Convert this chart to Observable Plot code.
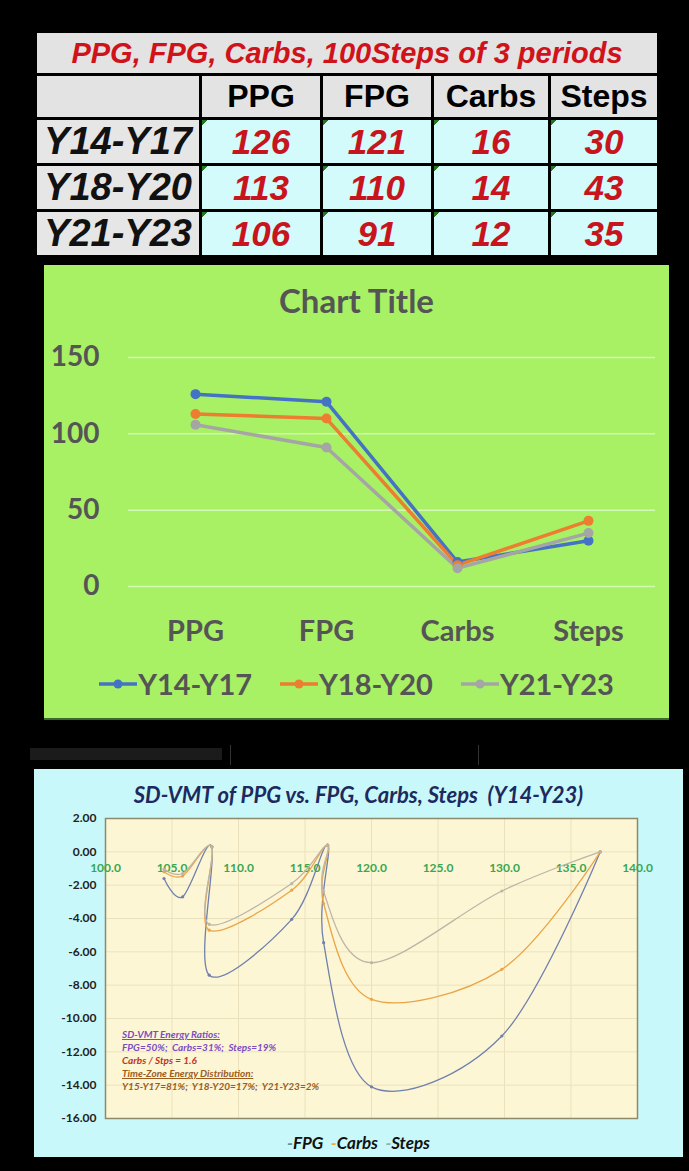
<!DOCTYPE html>
<html><head><meta charset="utf-8">
<script src="https://cdn.jsdelivr.net/npm/d3@7"></script>
<script src="https://cdn.jsdelivr.net/npm/@observablehq/plot@0.6"></script>
<style>
html,body{margin:0;padding:0;}
body{background:#000;width:689px;height:1171px;overflow:hidden;position:relative;}
#table{position:absolute;left:37px;top:33px;display:grid;grid-template-columns:162px 118px 108px 114px 106px;grid-template-rows:40px 41px 43px 43px 43px;gap:3px;}
#table div{display:flex;align-items:center;justify-content:center;font-family:"Liberation Sans",Arial,sans-serif;font-weight:bold;white-space:nowrap;overflow:hidden;}
#table .ttl{grid-column:1 / -1;background:#e3e3e3;color:#d0121a;font-style:italic;font-size:29px;}
#table .hd{background:#e3e3e3;color:#000;font-size:32px;}
#table .lab{background:#e6e6e6;color:#111;font-style:italic;font-size:38px;}
#table .val{background:linear-gradient(135deg,#1f7a1f 0,#1f7a1f 4px,rgba(0,0,0,0) 4px),#d3fbfb;color:#c8141c;font-style:italic;font-size:35px;}
#green{position:absolute;left:44px;top:265px;width:625px;height:453px;background:#a8f064;box-shadow:0 2px 0 #3c6a28;}
#gtitle{position:absolute;left:0;width:625px;top:15px;text-align:center;font:bold 33px Lato,sans-serif;color:#555;}
#gplot{position:absolute;left:0;top:0;}
#glegend{position:absolute;left:0;width:625px;top:401px;display:flex;justify-content:center;gap:28px;font:bold 29px Lato,sans-serif;color:#555;}
#glegend span{display:flex;align-items:center;}
#cyan{position:absolute;left:34px;top:769px;width:649px;height:388px;background:#c9f8fb;}
#ctitle{position:absolute;left:0;width:649px;top:12px;text-align:center;font:italic bold 22px Lato,sans-serif;color:#1c2a5e;white-space:pre;}
#cplot{position:absolute;left:0;top:0;}
#notes{position:absolute;left:88px;top:259px;font:italic bold 10px Lato,sans-serif;line-height:13px;white-space:pre;}
#clegend{position:absolute;left:0;width:649px;top:363px;text-align:center;font:italic bold 17px Lato,sans-serif;color:#111;white-space:pre;}
.bar{position:absolute;background:#1b1b1b;}
</style></head><body>
<div class="bar" style="left:30px;top:748px;width:192px;height:12px;"></div>
<div class="bar" style="left:230px;top:745px;width:1px;height:20px;background:#333;"></div>
<div class="bar" style="left:478px;top:745px;width:1px;height:20px;background:#333;"></div>
<div id="table"></div>
<div id="green"><div id="gplot"></div><div id="gtitle">Chart Title</div><div id="glegend"></div></div>
<div id="cyan"><div id="cplot"></div><div id="ctitle"></div><div id="notes"></div><div id="clegend"></div></div>
<script>
// ---- table / top chart data ----
const tableTitle = "PPG, FPG, Carbs, 100Steps of 3 periods";
const periods = ["Y14-Y17", "Y18-Y20", "Y21-Y23"];
const metrics = ["PPG", "FPG", "Carbs", "Steps"];
const valsY14Y17 = [126, 121, 16, 30];
const valsY18Y20 = [113, 110, 14, 43];
const valsY21Y23 = [106, 91, 12, 35];
const periodColors = ["#4472C4", "#ED7D31", "#A5A5A5"];
const topYTicks = [0, 50, 100, 150];
const topTitle = "Chart Title";

// ---- SD-VMT chart data ----
const sdTitle = "SD-VMT of PPG vs. FPG, Carbs, Steps  (Y14-Y23)";
const sdSeries = ["FPG", "Carbs", "Steps"];
const sdX =     [104.4, 105.8, 108.0, 107.8, 114.0, 116.7, 116.4, 120.0, 129.8, 137.2];
const sdFPG =   [-1.6, -2.7, 0.3, -7.4, -4.05, 0.4, -5.45, -14.1, -11.05, 0];
const sdCarbs = [-1.2, -1.45, 0.3, -4.7, -2.3, 0.4, -3.1, -8.85, -7.05, 0];
const sdSteps = [-1.05, -1.3, 0.3, -4.35, -1.9, 0.4, -2.4, -6.65, -2.35, 0];
const sdColors = ["#6f80ad", "#eaa548", "#bdb5a6"];
const sdLegendColors = ["#5f93a8", "#f0a848", "#8fb0b0"];
const sdXTicks = [100, 105, 110, 115, 120, 125, 130, 135, 140];
const sdYTicks = [2, 0, -2, -4, -6, -8, -10, -12, -14, -16];
const noteLines = ["SD-VMT Energy Ratios:", "FPG=50%;  Carbs=31%;  Steps=19%", "Carbs / Stps = 1.6", "Time-Zone Energy Distribution:", "Y15-Y17=81%;  Y18-Y20=17%;  Y21-Y23=2%"];
const noteColors = ["#7b4cc2", "#7b4cc2", "#c0321f", "#9c5c1c", "#9c5c1c"];
const noteUnderline = [true, false, false, true, false];

// ---- build table ----
const allVals = [valsY14Y17, valsY18Y20, valsY21Y23];
const tbl = document.getElementById("table");
function cell(cls, txt) { const d = document.createElement("div"); d.className = cls; d.textContent = txt; tbl.appendChild(d); }
cell("ttl", tableTitle);
cell("hd", "");
metrics.forEach(m => cell("hd", m));
periods.forEach((p, i) => { cell("lab", p); allVals[i].forEach(v => cell("val", String(v))); });

// ---- top chart ----
const lineRows = [];
periods.forEach((p, i) => metrics.forEach((m, j) => lineRows.push({period: p, metric: m, value: allVals[i][j]})));
const g = Plot.plot({
  width: 625, height: 453, marginTop: 92, marginBottom: 132, marginLeft: 84, marginRight: 14,
  style: {background: "transparent", fontFamily: "Lato, sans-serif", color: "#555"},
  x: {type: "point", domain: metrics, padding: 0.5, label: null},
  y: {domain: [0, 150], label: null},
  color: {domain: periods, range: periodColors},
  marks: [
    Plot.ruleY(topYTicks, {stroke: "#d3f7b4", strokeWidth: 1.5}),
    Plot.axisY({ticks: topYTicks, tickSize: 0, tickPadding: 29, fontSize: 28, fontWeight: "bold", fill: "#555", label: null}),
    Plot.axisX({tickSize: 0, tickPadding: 34, fontSize: 29, fontWeight: "bold", fill: "#555", label: null}),
    Plot.line(lineRows, {x: "metric", y: "value", z: "period", stroke: "period", strokeWidth: 3.5}),
    Plot.dot(lineRows, {x: "metric", y: "value", fill: "period", r: 5})
  ]
});
document.getElementById("gplot").appendChild(g);
document.getElementById("gtitle").textContent = topTitle;
const gl = document.getElementById("glegend");
periods.forEach((p, i) => {
  const s = document.createElement("span");
  s.innerHTML = `<svg width="38" height="14" style="margin-right:1px"><line x1="0" y1="7" x2="38" y2="7" stroke="${periodColors[i]}" stroke-width="3.5"/><circle cx="19" cy="7" r="4.5" fill="${periodColors[i]}"/></svg>`;
  s.appendChild(document.createTextNode(p));
  gl.appendChild(s);
});

// ---- SD-VMT chart ----
const sdRows = [];
[sdFPG, sdCarbs, sdSteps].forEach((arr, i) => arr.forEach((v, j) => sdRows.push({series: sdSeries[i], x: sdX[j], y: v})));
const c = Plot.plot({
  width: 649, height: 388, marginTop: 49, marginBottom: 39, marginLeft: 71, marginRight: 46,
  style: {background: "transparent", fontFamily: "Lato, sans-serif"},
  x: {domain: [100, 140], label: null, axis: null},
  y: {domain: [-16, 2], label: null},
  color: {domain: sdSeries, range: sdColors},
  marks: [
    Plot.frame({fill: "#fdf6d5"}),
    Plot.ruleX(sdXTicks, {stroke: "#ebe2bd"}),
    Plot.ruleY(sdYTicks, {stroke: "#ebe2bd"}),
    Plot.frame({stroke: "#8c8a6a", strokeWidth: 1.5}),
    Plot.axisY({ticks: sdYTicks, tickSize: 0, tickPadding: 9, tickFormat: d => d.toFixed(2), fontSize: 12, fontWeight: "bold", fill: "#222", label: null}),
    Plot.text(sdXTicks, {x: d => d, y: 0, text: d => d.toFixed(1), dy: 16, fill: "#3aa652", fontSize: 12, fontWeight: "bold"}),
    Plot.line(sdRows, {x: "x", y: "y", z: "series", stroke: "series", strokeWidth: 1.3, curve: "cardinal", tension: 0}),
    Plot.dot(sdRows, {x: "x", y: "y", fill: "series", r: 1.6})
  ]
});
document.getElementById("cplot").appendChild(c);
document.getElementById("ctitle").textContent = sdTitle;
const notes = document.getElementById("notes");
noteLines.forEach((t, i) => {
  const d = document.createElement("div");
  d.textContent = t; d.style.color = noteColors[i];
  if (noteUnderline[i]) d.style.textDecoration = "underline";
  notes.appendChild(d);
});
const cl = document.getElementById("clegend");
cl.innerHTML = sdSeries.map((s, i) => `<span style="color:${sdLegendColors[i]}">-</span>${s}`).join("  ");
</script>
</body></html>
